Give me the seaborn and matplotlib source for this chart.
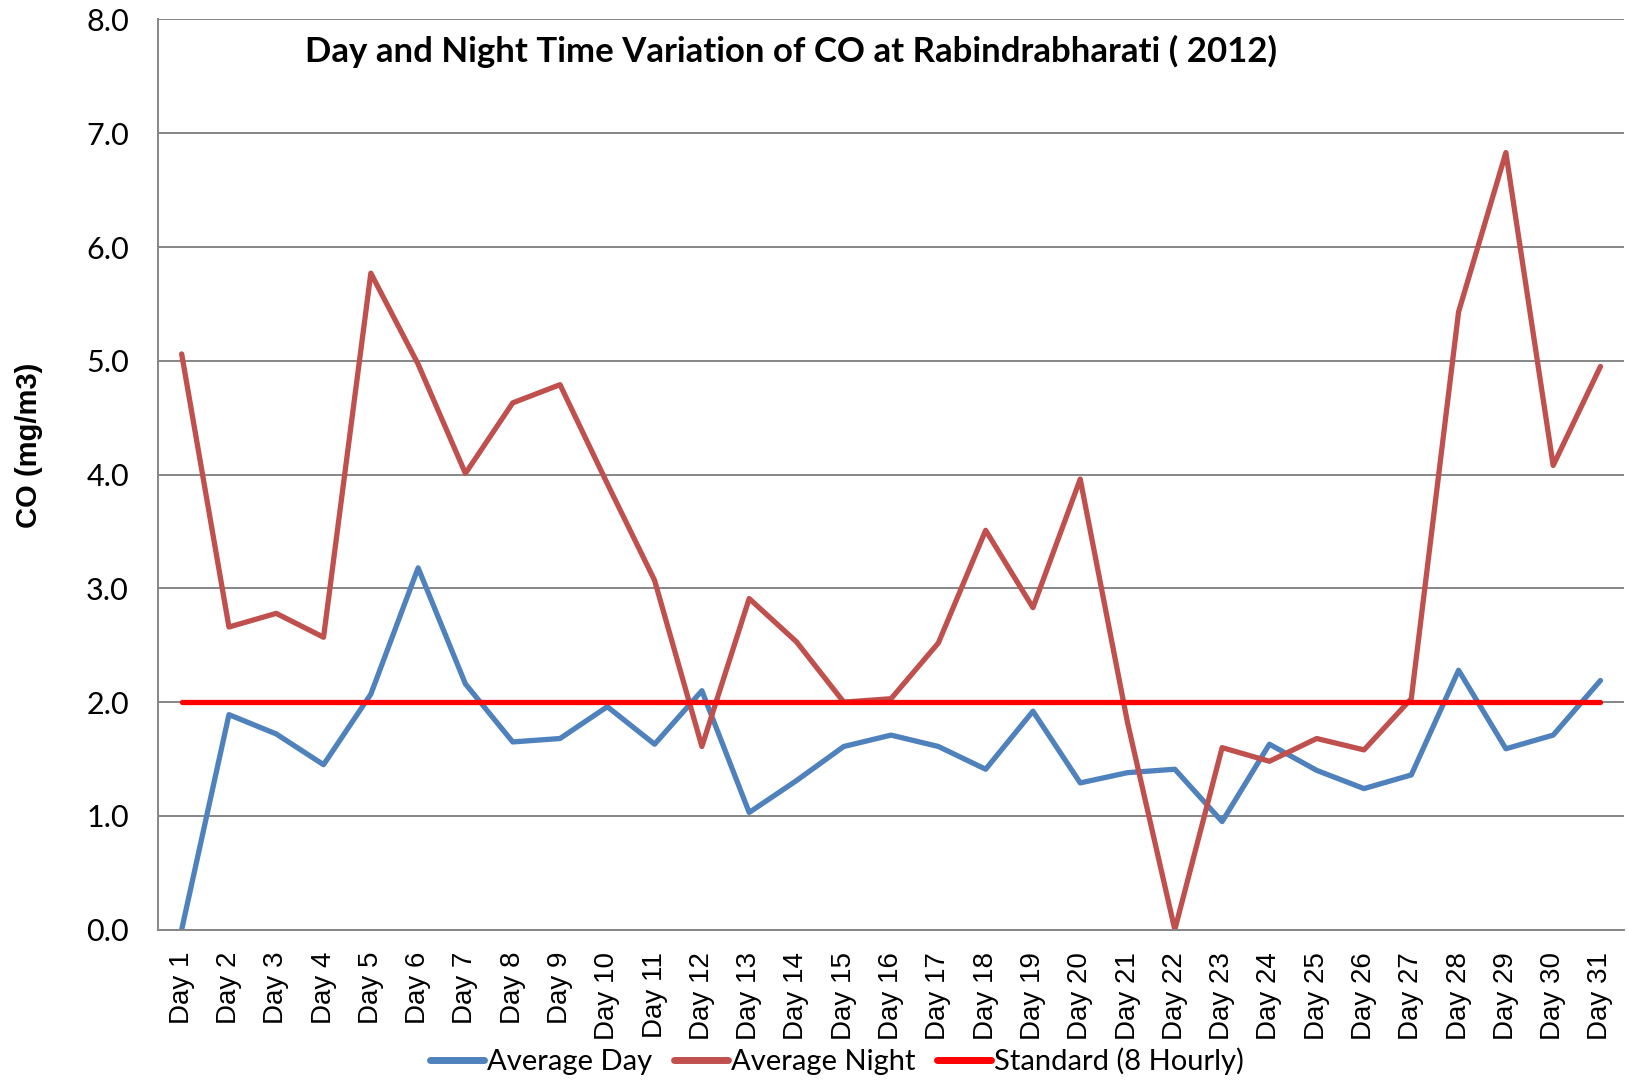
import numpy as np
import pandas as pd
import seaborn as sns
import matplotlib.pyplot as plt
from matplotlib.ticker import FixedLocator, MultipleLocator

days = [f"Day {i}" for i in range(1, 32)]
avg_day = [0.00, 1.89, 1.72, 1.45, 2.07, 3.18, 2.16, 1.65, 1.68, 1.96, 1.63,
           2.10, 1.03, 1.31, 1.61, 1.71, 1.61, 1.41, 1.92, 1.29, 1.38, 1.41,
           0.95, 1.63, 1.40, 1.24, 1.36, 2.28, 1.59, 1.71, 2.19]
avg_night = [5.06, 2.66, 2.78, 2.57, 5.77, 4.97, 4.01, 4.63, 4.79, 3.92, 3.07,
             1.61, 2.91, 2.53, 2.00, 2.03, 2.52, 3.51, 2.83, 3.96, 1.82, 0.00,
             1.60, 1.48, 1.68, 1.58, 2.03, 5.43, 6.83, 4.08, 4.95]
standard = [2.0] * 31

series = {
    "Average Day": avg_day,
    "Average Night": avg_night,
    "Standard (8 Hourly)": standard,
}
colors = {"Average Day": "#4F81BD", "Average Night": "#C0504D",
          "Standard (8 Hourly)": "#FF0000"}

df = pd.concat([
    pd.DataFrame({"pos": range(len(days)), "day": days, "value": v, "series": k})
    for k, v in series.items()
])

sns.set_style("white")
plt.rcParams["font.family"] = ["Lato", "DejaVu Sans"]
plt.rcParams["text.color"] = "black"
plt.rcParams["xtick.color"] = "black"
plt.rcParams["ytick.color"] = "black"
plt.rcParams["axes.labelcolor"] = "black"

fig = plt.figure(figsize=(16.29, 10.81), dpi=100)
ax = fig.add_axes([0.097, 0.140, 0.900, 0.842])

sns.lineplot(data=df, x="pos", y="value", hue="series", palette=colors,
             linewidth=3.8, sort=False, ax=ax, legend=True)

ax.set_xlim(-0.5, len(days) - 0.5)
ax.set_ylim(0, 8)
ax.yaxis.set_major_locator(MultipleLocator(1))
ax.set_yticklabels([f"{v:.1f}" for v in ax.get_yticks()])
ax.grid(axis="y", color="#868686", linewidth=1.4)
ax.set_axisbelow(True)

ax.set_xticks(range(len(days)))
ax.set_xticklabels(days, rotation=90, fontsize=20, family=["Liberation Sans", "DejaVu Sans"])
ax.xaxis.set_minor_locator(FixedLocator(np.arange(-0.5, len(days), 1)))
ax.tick_params(axis="x", which="major", length=0, pad=16, labelcolor="black")
ax.tick_params(axis="x", which="minor", length=9, color="#868686", width=1.4)
ax.tick_params(axis="y", length=9, color="#868686", labelcolor="black", width=1.4,
               labelsize=22, pad=12)

for side in ["top", "right"]:
    ax.spines[side].set_visible(False)
for side in ["left", "bottom"]:
    ax.spines[side].set_color("#868686")
    ax.spines[side].set_linewidth(1.4)

ax.set_xlabel("")
ax.set_ylabel("")
fig.text(0.018, 0.588, "CO (mg/m3)", rotation=90, ha="center", va="center",
         fontsize=21, fontweight="bold", family=["Liberation Sans", "DejaVu Sans"])
ax.text(0.432, 0.965, "Day and Night Time Variation of CO at Rabindrabharati ( 2012)",
        transform=ax.transAxes, ha="center", va="center", fontsize=25,
        fontweight="bold")

handles, labels = ax.get_legend_handles_labels()
ax.get_legend().remove()
for h in handles:
    h.set_linewidth(5)
fig.legend(handles, labels, loc="center", bbox_to_anchor=(0.514, 0.018), ncol=3,
           frameon=False, fontsize=21, handlelength=1.85, handletextpad=0.1,
           columnspacing=0.75)

fig.savefig("out.png", dpi=100)
